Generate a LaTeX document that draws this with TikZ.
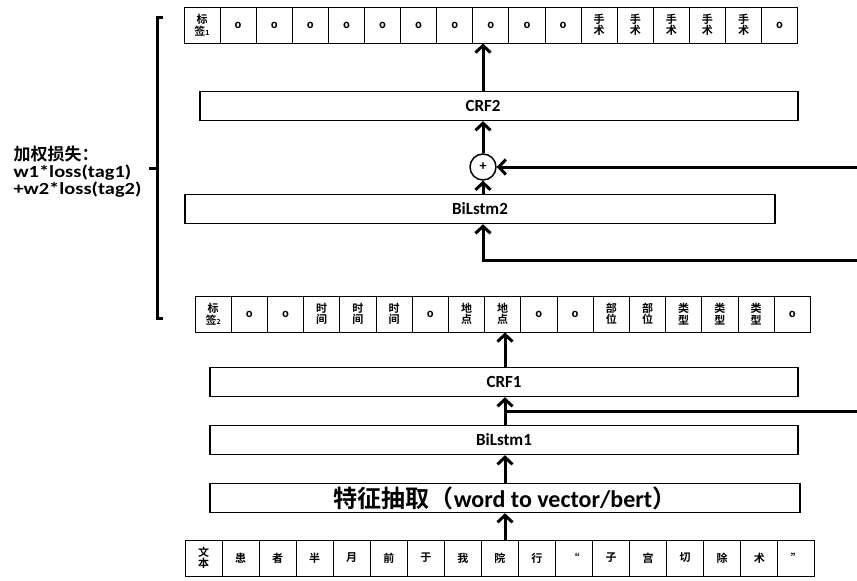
\documentclass[tikz,border=0pt]{standalone}
\usepackage{fontspec}
\setmainfont{Carlito}
\newfontfamily\cjk{Noto Sans CJK SC}[BoldFont={Noto Sans CJK SC Bold}]
\usetikzlibrary{arrows.meta}

\tikzset{
  cell/.style={draw, line width=1pt, minimum height=36pt, inner sep=0pt,
    align=center, font=\cjk\bfseries\fontsize{11}{11.5}\selectfont},
  layer/.style={draw, line width=1.5pt, minimum height=29pt, inner sep=0pt,
    font=\bfseries\fontsize{17}{19}\selectfont},
  flow/.style={line width=3pt, -{Straight Barb[length=7pt,width=15pt]}},
  feed/.style={line width=3pt},
}

\begin{document}
\begin{tikzpicture}[x=1pt,y=-1pt]

\useasboundingbox (0,0) rectangle (857,581);

% -------- Tag row 1 (top) --------
\foreach \t [count=\i] in {{标\\签{\scriptsize 1}},o,o,o,o,o,o,o,o,o,o,
    {手\\术},{手\\术},{手\\术},{手\\术},{手\\术},o}{
  \node[cell,minimum width=36.1pt] (ra-\i) at ({184+36.1*(\i-0.5)},25) {\t};
}

% -------- Tag row 2 (middle) --------
\foreach \t [count=\i] in {{标\\签{\scriptsize 2}},o,o,{时\\间},{时\\间},{时\\间},o,
    {地\\点},{地\\点},o,o,{部\\位},{部\\位},{类\\型},{类\\型},{类\\型},o}{
  \node[cell,minimum width=36.2pt] (rb-\i) at ({195+36.2*(\i-0.5)},314) {\t};
}

% -------- Text row (bottom) --------
\foreach \t [count=\i] in {{文\\本},患,者,半,月,前,于,我,院,行,“,子,宫,切,除,术,”}{
  \node[cell,minimum width=37.05pt] (rc-\i) at ({185+37.05*(\i-0.5)},558) {\t};
}

% -------- Layers --------
\node[layer,minimum width=590pt,font=\bfseries\fontsize{24}{26}\selectfont]
  (feat) at (505,498) {{\cjk\bfseries 特征抽取（}word to vector/bert{\cjk\bfseries ）}};
\node[layer,minimum width=588pt] (bil1) at (504,440) {BiLstm1};
\node[layer,minimum width=588pt] (crf1) at (504,382) {CRF1};
\node[layer,minimum width=590pt] (bil2) at (480,209) {BiLstm2};
\node[layer,minimum width=598pt] (crf2) at (499,106) {\hspace*{-32pt}CRF2};
\node[circle,draw,line width=1.5pt,minimum size=26pt,inner sep=0pt,
  font=\bfseries\fontsize{14}{14}\selectfont] (plus) at (483,167) {+};

% -------- Inputs from the right --------
\coordinate (axis1) at (505,0);
\coordinate (in1) at (857,411);
\coordinate (in2) at (857,167);
\coordinate (in3) at (857,260);

% -------- Connectors --------
\draw[flow] (rc-9.north -| axis1) -- (feat.south -| axis1);
\draw[flow] (feat.north -| axis1) -- (bil1.south -| axis1);
\draw[flow] (bil1.north -| axis1) -- (crf1.south -| axis1);
\draw[feed] (in1) -- (in1 -| axis1);
\draw[flow] (crf1.north -| axis1) -- (rb-9.south -| axis1);
\draw[flow] (in3) -| (bil2.south -| plus);
\draw[flow] (bil2.north -| plus) -- (plus.south);
\draw[flow] (in2) -- (plus.east);
\draw[flow] (plus.north) -- (crf2.south -| plus);
\draw[flow] (crf2.north -| plus) -- (ra-9.south -| plus);

% -------- Brace and loss --------
\coordinate (bt) at (157,17);
\coordinate (bb) at (157,318);
\coordinate (bm) at (157,168);
\draw[line width=3pt] ([xshift=6pt]bt) -- (bt) -- (bb) -- ([xshift=6pt]bb);
\draw[line width=3pt] (bm) -- ([xshift=-8pt]bm);
\node[anchor=west,align=left,
  font=\bfseries\fontsize{17}{17}\selectfont\addfontfeature{FakeStretch=1.2}]
  (loss) at (10,172) {{\cjk\bfseries 加权损失：}\\w1*loss(tag1)\\+w2*loss(tag2)};

\end{tikzpicture}
\end{document}
